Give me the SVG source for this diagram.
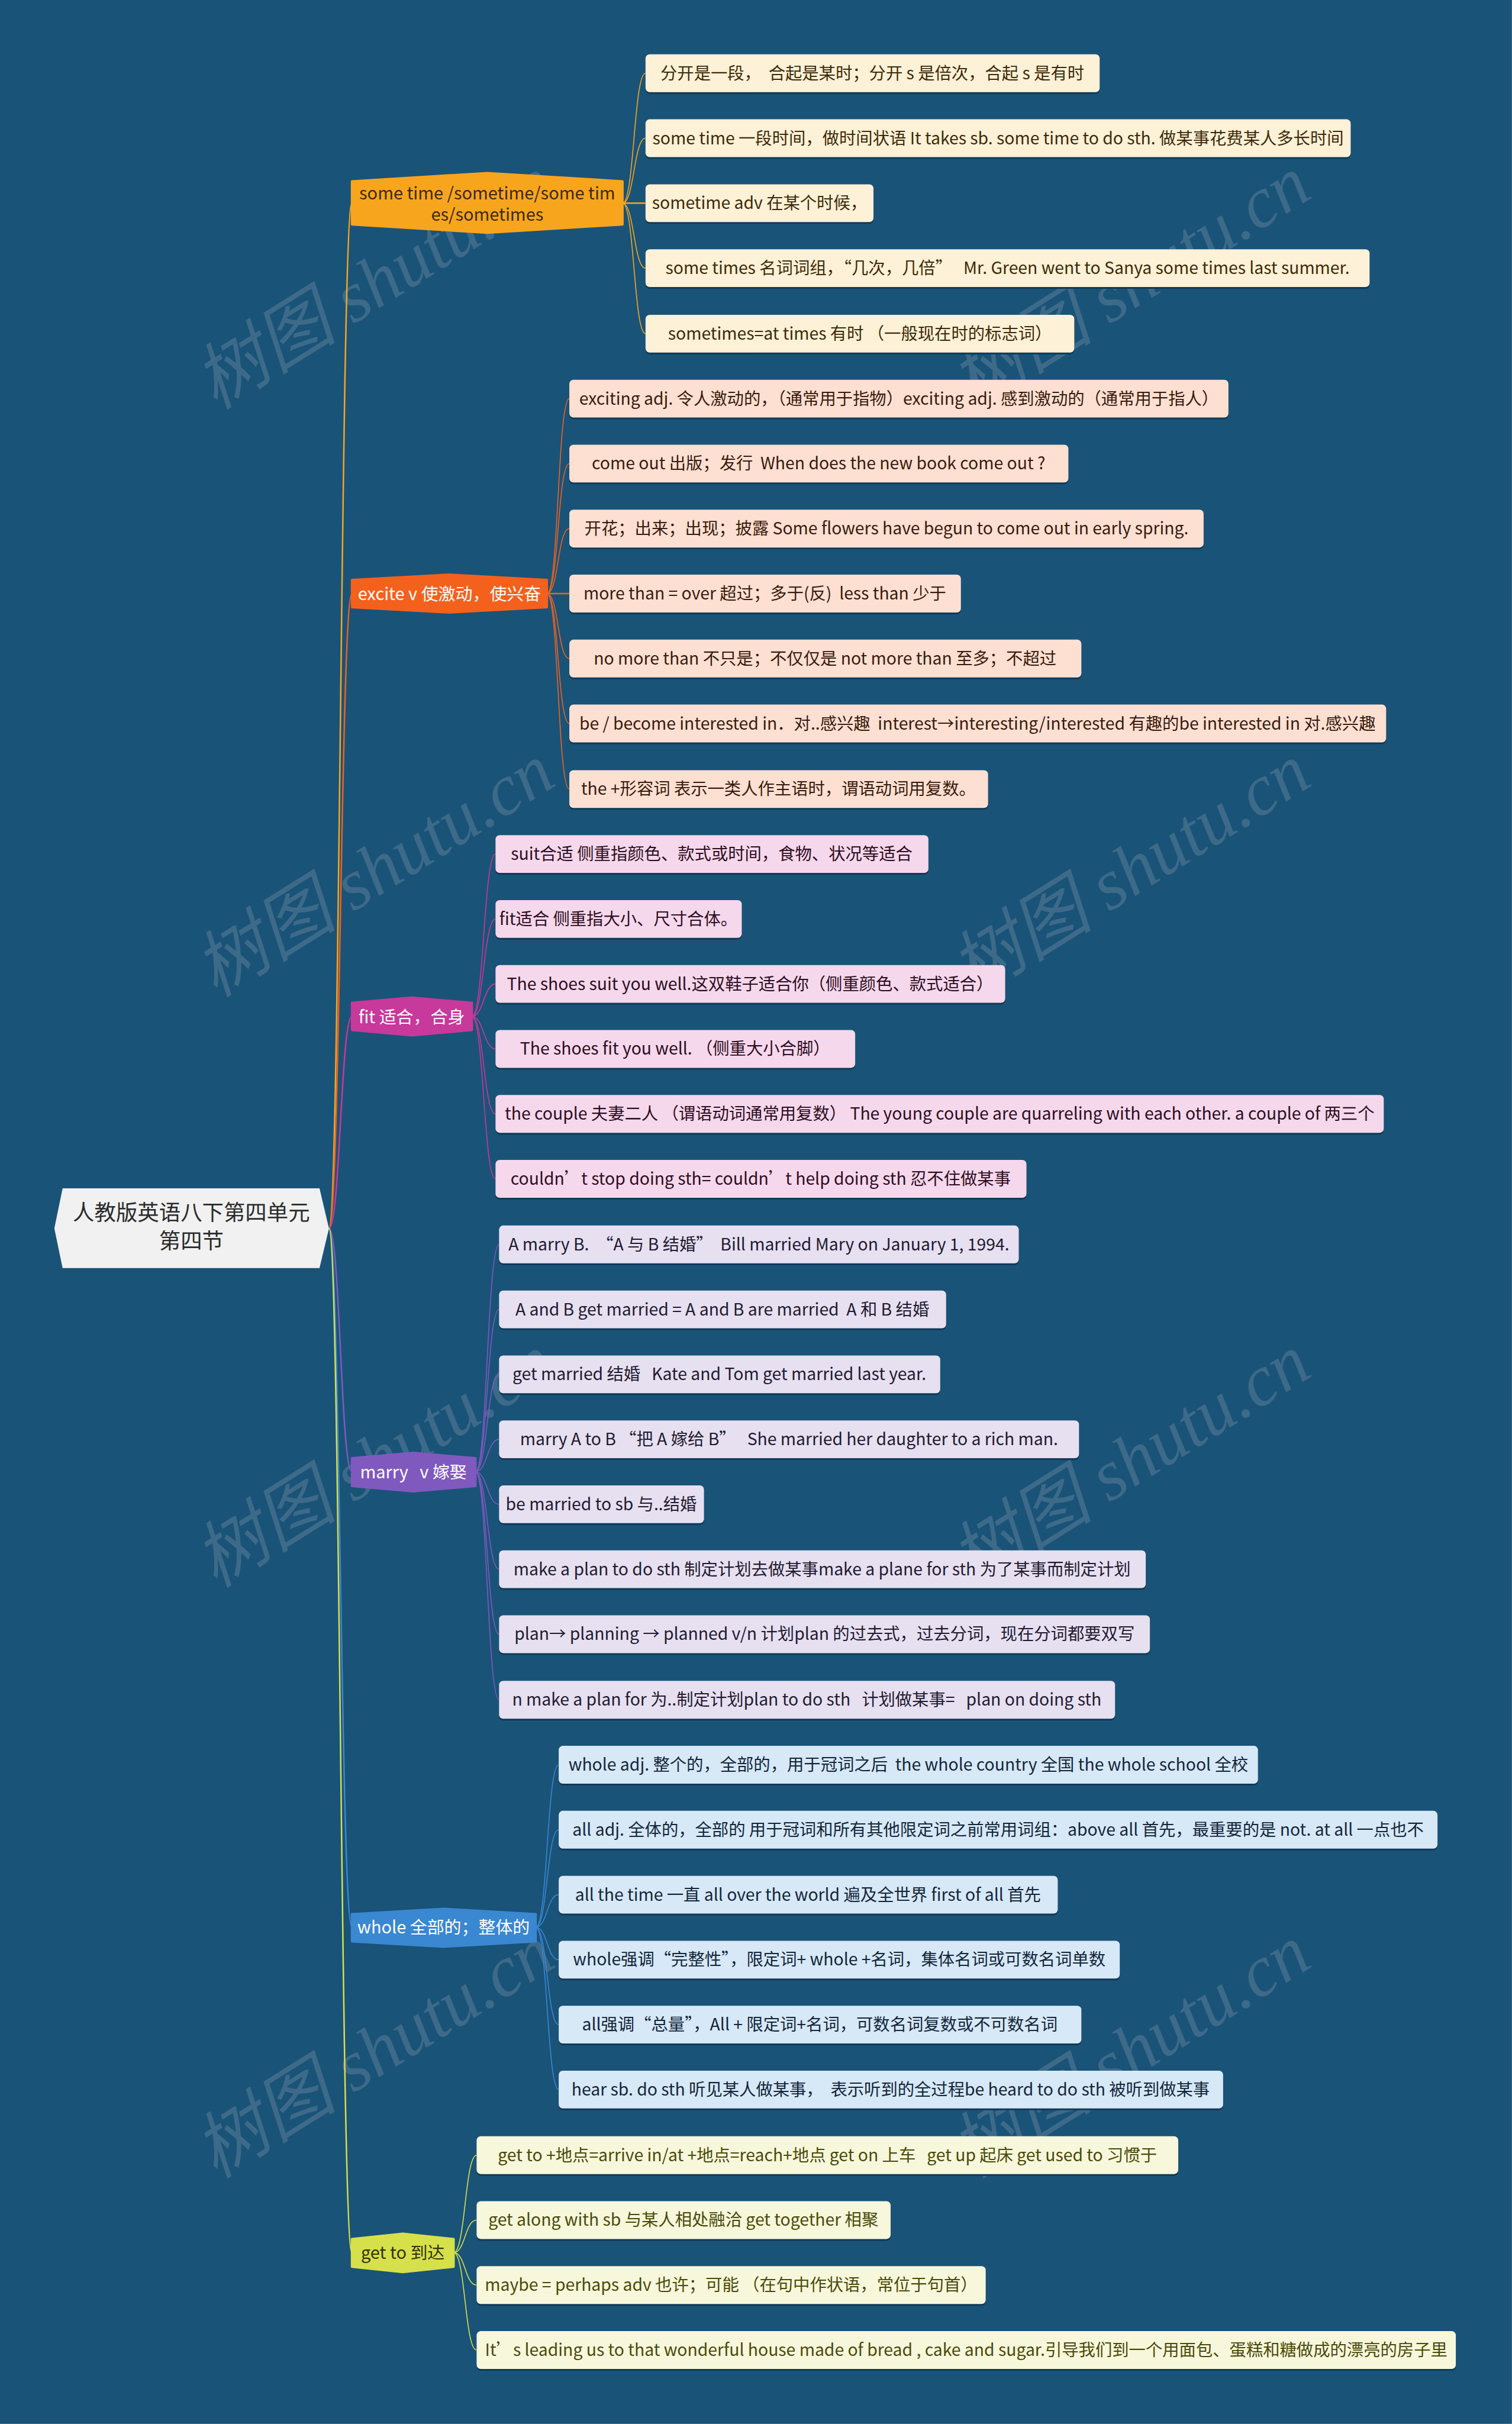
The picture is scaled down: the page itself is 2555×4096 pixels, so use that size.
<svg xmlns="http://www.w3.org/2000/svg" width="2555" height="4096" viewBox="0 0 2555 4096">
<defs>
<style>
text { white-space: pre; font-family: "Noto Sans CJK SC", "Noto Sans", sans-serif; }
.leaf text { font-size: 28.4px; text-anchor: middle; }
.shadow { fill: #0f3a57; }
.br text { font-size: 29px; text-anchor: middle; }
.wm { font-family: "Liberation Serif", "Noto Sans CJK SC", serif; font-style: italic; font-size: 122px; fill: #c9c9c9; opacity: 0.2; }
.c1 rect.box { fill: #fdf1d7; } .c1 text { fill: #3d2a08; }
.c2 rect.box { fill: #fde0d2; } .c2 text { fill: #3a1a0c; }
.c3 rect.box { fill: #f5d8eb; } .c3 text { fill: #2e0c22; }
.c4 rect.box { fill: #e6e0f1; } .c4 text { fill: #221a30; }
.c5 rect.box { fill: #d7e8f7; } .c5 text { fill: #12263a; }
.c6 rect.box { fill: #f7f7dc; } .c6 text { fill: #4a4a08; }
.conn path { fill: none; }
.k1 { stroke: #f5a623; } .k2 { stroke: #f0621f; } .k3 { stroke: #c7399a; } .k4 { stroke: #8059bf; } .k5 { stroke: #3a87d2; } .k6 { stroke: #d6e04b; }
.rb { stroke-width: 2.5; } .lb { stroke-width: 1.6; }
</style>
</defs>
<g transform="scale(0.998)">
<rect x="0" y="0" width="2560" height="4104" fill="#1a5378"/>

<g id="watermarks">
<text class="wm" transform="translate(365,695) rotate(-32)">树图 shutu.cn</text>
<text class="wm" transform="translate(1645,695) rotate(-32)">树图 shutu.cn</text>
<text class="wm" transform="translate(365,1690) rotate(-32)">树图 shutu.cn</text>
<text class="wm" transform="translate(1645,1690) rotate(-32)">树图 shutu.cn</text>
<text class="wm" transform="translate(365,2690) rotate(-32)">树图 shutu.cn</text>
<text class="wm" transform="translate(1645,2690) rotate(-32)">树图 shutu.cn</text>
<text class="wm" transform="translate(365,3690) rotate(-32)">树图 shutu.cn</text>
<text class="wm" transform="translate(1645,3690) rotate(-32)">树图 shutu.cn</text>
</g>

<g id="connectors" class="conn">
<path class="k1 rb" d="M557,2080 C576,2080 577,344 596,344"/>
<path class="k2 rb" d="M557,2080 C576,2080 577,1005 596,1005"/>
<path class="k3 rb" d="M557,2080 C576,2080 577,1721 596,1721"/>
<path class="k4 rb" d="M557,2080 C576,2080 577,2492 596,2492"/>
<path class="k5 rb" d="M557,2080 C576,2080 577,3263 596,3263"/>
<path class="k6 rb" d="M557,2080 C576,2080 577,3814 596,3814"/>

<path class="k1 lb" d="M1054,344 C1074,344 1073,124 1093,124"/>
<path class="k1 lb" d="M1054,344 C1074,344 1073,234 1093,234"/>
<path class="k1 rb" d="M1054,344 L1093,344"/>
<path class="k1 lb" d="M1054,344 C1074,344 1073,454 1093,454"/>
<path class="k1 lb" d="M1054,344 C1074,344 1073,565 1093,565"/>

<path class="k2 lb" d="M926,1005 C946,1005 944,675 964,675"/>
<path class="k2 lb" d="M926,1005 C946,1005 944,785 964,785"/>
<path class="k2 lb" d="M926,1005 C946,1005 944,895 964,895"/>
<path class="k2 rb" d="M926,1005 L964,1005"/>
<path class="k2 lb" d="M926,1005 C946,1005 944,1115 964,1115"/>
<path class="k2 lb" d="M926,1005 C946,1005 944,1225 964,1225"/>
<path class="k2 lb" d="M926,1005 C946,1005 944,1336 964,1336"/>

<path class="k3 lb" d="M799,1721 C819,1721 819,1446 839,1446"/>
<path class="k3 lb" d="M799,1721 C819,1721 819,1556 839,1556"/>
<path class="k3 lb" d="M799,1721 C819,1721 819,1666 839,1666"/>
<path class="k3 lb" d="M799,1721 C819,1721 819,1776 839,1776"/>
<path class="k3 lb" d="M799,1721 C819,1721 819,1886 839,1886"/>
<path class="k3 lb" d="M799,1721 C819,1721 819,1996 839,1996"/>

<path class="k4 lb" d="M805,2492 C825,2492 825,2107 845,2107"/>
<path class="k4 lb" d="M805,2492 C825,2492 825,2217 845,2217"/>
<path class="k4 lb" d="M805,2492 C825,2492 825,2327 845,2327"/>
<path class="k4 lb" d="M805,2492 C825,2492 825,2437 845,2437"/>
<path class="k4 lb" d="M805,2492 C825,2492 825,2547 845,2547"/>
<path class="k4 lb" d="M805,2492 C825,2492 825,2657 845,2657"/>
<path class="k4 lb" d="M805,2492 C825,2492 825,2767 845,2767"/>
<path class="k4 lb" d="M805,2492 C825,2492 825,2878 845,2878"/>

<path class="k5 lb" d="M907,3263 C927,3263 926,2988 946,2988"/>
<path class="k5 lb" d="M907,3263 C927,3263 926,3098 946,3098"/>
<path class="k5 lb" d="M907,3263 C927,3263 926,3208 946,3208"/>
<path class="k5 lb" d="M907,3263 C927,3263 926,3318 946,3318"/>
<path class="k5 lb" d="M907,3263 C927,3263 926,3428 946,3428"/>
<path class="k5 lb" d="M907,3263 C927,3263 926,3538 946,3538"/>

<path class="k6 lb" d="M768,3814 C788,3814 787,3649 807,3649"/>
<path class="k6 lb" d="M768,3814 C788,3814 787,3759 807,3759"/>
<path class="k6 lb" d="M768,3814 C788,3814 787,3869 807,3869"/>
<path class="k6 lb" d="M768,3814 C788,3814 787,3979 807,3979"/>
</g>

<g id="root">
<polygon points="106,2012 541,2012 557,2080 541,2147 106,2147 92,2080" fill="#f1f1f1"/>
<text x="324" y="2066" font-size="36.5" text-anchor="middle" fill="#2b2b2b">人教版英语八下第四单元</text>
<text x="324" y="2114" font-size="36.5" text-anchor="middle" fill="#2b2b2b">第四节</text>
</g>

<g id="branch-1" class="br">
<polygon points="596,307 825,293 1054,307 1054,380 825,394 596,380" fill="#f8a51e" stroke="#f8a51e" stroke-width="4" stroke-linejoin="round"/>
<text x="825" y="338" fill="#3a2a10">some time /sometime/some tim</text>
<text x="825" y="374" fill="#3a2a10">es/sometimes</text>
</g>
<g id="branch-2" class="br">
<polygon points="596,982 761,973 926,982 926,1028 761,1037 596,1028" fill="#f4611d" stroke="#f4611d" stroke-width="4" stroke-linejoin="round"/>
<text x="761" y="1016" fill="#ffffff">excite v 使激动，使兴奋</text>
</g>
<g id="branch-3" class="br">
<polygon points="596,1698 697,1689 799,1698 799,1744 697,1753 596,1744" fill="#c7399a" stroke="#c7399a" stroke-width="4" stroke-linejoin="round"/>
<text x="697" y="1732" fill="#ffffff">fit 适合，合身</text>
</g>
<g id="branch-4" class="br">
<polygon points="596,2469 700,2460 805,2469 805,2516 700,2525 596,2516" fill="#8059bf" stroke="#8059bf" stroke-width="4" stroke-linejoin="round"/>
<text x="700" y="2503" fill="#ffffff">marry   v 嫁娶</text>
</g>
<g id="branch-5" class="br">
<polygon points="596,3241 751,3232 907,3241 907,3287 751,3296 596,3287" fill="#3a87d2" stroke="#3a87d2" stroke-width="4" stroke-linejoin="round"/>
<text x="751" y="3274" fill="#ffffff">whole 全部的；整体的</text>
</g>
<g id="branch-6" class="br">
<polygon points="596,3791 682,3782 768,3791 768,3838 682,3847 596,3838" fill="#d6e04b" stroke="#d6e04b" stroke-width="4" stroke-linejoin="round"/>
<text x="682" y="3825" fill="#333300">get to 到达</text>
</g>

<!-- leaves group 1 -->
<g id="leaf-1-1" class="leaf c1"><rect class="shadow" x="1093" y="95" width="769" height="64" rx="7"/><rect class="box" x="1093" y="92" width="769" height="64" rx="7"/><text x="1477" y="134">分开是一段，  合起是某时；分开 s 是倍次，合起 s 是有时</text></g>
<g id="leaf-1-2" class="leaf c1"><rect class="shadow" x="1093" y="205" width="1194" height="64" rx="7"/><rect class="box" x="1093" y="202" width="1194" height="64" rx="7"/><text x="1690" y="244">some time 一段时间，做时间状语 It takes sb. some time to do sth. 做某事花费某人多长时间</text></g>
<g id="leaf-1-3" class="leaf c1"><rect class="shadow" x="1093" y="315" width="386" height="64" rx="7"/><rect class="box" x="1093" y="312" width="386" height="64" rx="7"/><text x="1286" y="354">sometime adv 在某个时候，</text></g>
<g id="leaf-1-4" class="leaf c1"><rect class="shadow" x="1093" y="425" width="1226" height="64" rx="7"/><rect class="box" x="1093" y="422" width="1226" height="64" rx="7"/><text x="1706" y="464">some times 名词词组，“几次，几倍”   Mr. Green went to Sanya some times last summer.</text></g>
<g id="leaf-1-5" class="leaf c1"><rect class="shadow" x="1093" y="536" width="726" height="64" rx="7"/><rect class="box" x="1093" y="533" width="726" height="64" rx="7"/><text x="1456" y="575">sometimes=at times 有时 （一般现在时的标志词）</text></g>

<!-- leaves group 2 -->
<g id="leaf-2-1" class="leaf c2"><rect class="shadow" x="964" y="646" width="1116" height="64" rx="7"/><rect class="box" x="964" y="643" width="1116" height="64" rx="7"/><text x="1522" y="685">exciting adj. 令人激动的，（通常用于指物）exciting adj. 感到激动的（通常用于指人）</text></g>
<g id="leaf-2-2" class="leaf c2"><rect class="shadow" x="964" y="756" width="845" height="64" rx="7"/><rect class="box" x="964" y="753" width="845" height="64" rx="7"/><text x="1386" y="795">come out 出版；发行  When does the new book come out ?</text></g>
<g id="leaf-2-3" class="leaf c2"><rect class="shadow" x="964" y="866" width="1074" height="64" rx="7"/><rect class="box" x="964" y="863" width="1074" height="64" rx="7"/><text x="1501" y="905">开花；出来；出现；披露 Some flowers have begun to come out in early spring.</text></g>
<g id="leaf-2-4" class="leaf c2"><rect class="shadow" x="964" y="976" width="663" height="64" rx="7"/><rect class="box" x="964" y="973" width="663" height="64" rx="7"/><text x="1295" y="1015">more than = over 超过；多于(反)  less than 少于</text></g>
<g id="leaf-2-5" class="leaf c2"><rect class="shadow" x="964" y="1086" width="867" height="64" rx="7"/><rect class="box" x="964" y="1083" width="867" height="64" rx="7"/><text x="1397" y="1125">no more than 不只是；不仅仅是 not more than 至多；不超过</text></g>
<g id="leaf-2-6" class="leaf c2"><rect class="shadow" x="964" y="1196" width="1383" height="64" rx="7"/><rect class="box" x="964" y="1193" width="1383" height="64" rx="7"/><text x="1655" y="1235">be / become interested in．对..感兴趣  interest→interesting/interested 有趣的be interested in 对.感兴趣</text></g>
<g id="leaf-2-7" class="leaf c2"><rect class="shadow" x="964" y="1307" width="709" height="64" rx="7"/><rect class="box" x="964" y="1304" width="709" height="64" rx="7"/><text x="1318" y="1346">the +形容词 表示一类人作主语时，谓语动词用复数。</text></g>

<!-- leaves group 3 -->
<g id="leaf-3-1" class="leaf c3"><rect class="shadow" x="839" y="1417" width="733" height="64" rx="7"/><rect class="box" x="839" y="1414" width="733" height="64" rx="7"/><text x="1205" y="1456">suit合适 侧重指颜色、款式或时间，食物、状况等适合</text></g>
<g id="leaf-3-2" class="leaf c3"><rect class="shadow" x="839" y="1527" width="417" height="64" rx="7"/><rect class="box" x="839" y="1524" width="417" height="64" rx="7"/><text x="1047" y="1566">fit适合 侧重指大小、尺寸合体。</text></g>
<g id="leaf-3-3" class="leaf c3"><rect class="shadow" x="839" y="1637" width="863" height="64" rx="7"/><rect class="box" x="839" y="1634" width="863" height="64" rx="7"/><text x="1270" y="1676">The shoes suit you well.这双鞋子适合你（侧重颜色、款式适合）</text></g>
<g id="leaf-3-4" class="leaf c3"><rect class="shadow" x="839" y="1747" width="609" height="64" rx="7"/><rect class="box" x="839" y="1744" width="609" height="64" rx="7"/><text x="1143" y="1786">The shoes fit you well. （侧重大小合脚）</text></g>
<g id="leaf-3-5" class="leaf c3"><rect class="shadow" x="839" y="1857" width="1504" height="64" rx="7"/><rect class="box" x="839" y="1854" width="1504" height="64" rx="7"/><text x="1591" y="1896">the couple 夫妻二人 （谓语动词通常用复数） The young couple are quarreling with each other. a couple of 两三个</text></g>
<g id="leaf-3-6" class="leaf c3"><rect class="shadow" x="839" y="1967" width="899" height="64" rx="7"/><rect class="box" x="839" y="1964" width="899" height="64" rx="7"/><text x="1288" y="2006">couldn’t stop doing sth= couldn’t help doing sth 忍不住做某事</text></g>

<!-- leaves group 4 -->
<g id="leaf-4-1" class="leaf c4"><rect class="shadow" x="845" y="2078" width="880" height="64" rx="7"/><rect class="box" x="845" y="2075" width="880" height="64" rx="7"/><text x="1285" y="2117">A marry B.  “A 与 B 结婚”  Bill married Mary on January 1, 1994.</text></g>
<g id="leaf-4-2" class="leaf c4"><rect class="shadow" x="845" y="2188" width="757" height="64" rx="7"/><rect class="box" x="845" y="2185" width="757" height="64" rx="7"/><text x="1223" y="2227">A and B get married = A and B are married  A 和 B 结婚</text></g>
<g id="leaf-4-3" class="leaf c4"><rect class="shadow" x="845" y="2298" width="747" height="64" rx="7"/><rect class="box" x="845" y="2295" width="747" height="64" rx="7"/><text x="1218" y="2337">get married 结婚   Kate and Tom get married last year.</text></g>
<g id="leaf-4-4" class="leaf c4"><rect class="shadow" x="845" y="2408" width="982" height="64" rx="7"/><rect class="box" x="845" y="2405" width="982" height="64" rx="7"/><text x="1336" y="2447">marry A to B “把 A 嫁给 B”   She married her daughter to a rich man.</text></g>
<g id="leaf-4-5" class="leaf c4"><rect class="shadow" x="845" y="2518" width="347" height="64" rx="7"/><rect class="box" x="845" y="2515" width="347" height="64" rx="7"/><text x="1018" y="2557">be married to sb 与..结婚</text></g>
<g id="leaf-4-6" class="leaf c4"><rect class="shadow" x="845" y="2628" width="1095" height="64" rx="7"/><rect class="box" x="845" y="2625" width="1095" height="64" rx="7"/><text x="1392" y="2667">make a plan to do sth 制定计划去做某事make a plane for sth 为了某事而制定计划</text></g>
<g id="leaf-4-7" class="leaf c4"><rect class="shadow" x="845" y="2738" width="1102" height="64" rx="7"/><rect class="box" x="845" y="2735" width="1102" height="64" rx="7"/><text x="1396" y="2777">plan→ planning → planned v/n 计划plan 的过去式，过去分词，现在分词都要双写</text></g>
<g id="leaf-4-8" class="leaf c4"><rect class="shadow" x="845" y="2849" width="1043" height="64" rx="7"/><rect class="box" x="845" y="2846" width="1043" height="64" rx="7"/><text x="1366" y="2888">n make a plan for 为..制定计划plan to do sth   计划做某事=   plan on doing sth</text></g>

<!-- leaves group 5 -->
<g id="leaf-5-1" class="leaf c5"><rect class="shadow" x="946" y="2959" width="1184" height="64" rx="7"/><rect class="box" x="946" y="2956" width="1184" height="64" rx="7"/><text x="1538" y="2998">whole adj. 整个的，全部的，用于冠词之后  the whole country 全国 the whole school 全校</text></g>
<g id="leaf-5-2" class="leaf c5"><rect class="shadow" x="946" y="3069" width="1488" height="64" rx="7"/><rect class="box" x="946" y="3066" width="1488" height="64" rx="7"/><text x="1690" y="3108">all adj. 全体的，全部的 用于冠词和所有其他限定词之前常用词组：above all 首先，最重要的是 not. at all 一点也不</text></g>
<g id="leaf-5-3" class="leaf c5"><rect class="shadow" x="946" y="3179" width="845" height="64" rx="7"/><rect class="box" x="946" y="3176" width="845" height="64" rx="7"/><text x="1368" y="3218">all the time 一直 all over the world 遍及全世界 first of all 首先</text></g>
<g id="leaf-5-4" class="leaf c5"><rect class="shadow" x="946" y="3289" width="950" height="64" rx="7"/><rect class="box" x="946" y="3286" width="950" height="64" rx="7"/><text x="1421" y="3328">whole强调“完整性”，限定词+ whole +名词，集体名词或可数名词单数</text></g>
<g id="leaf-5-5" class="leaf c5"><rect class="shadow" x="946" y="3399" width="885" height="64" rx="7"/><rect class="box" x="946" y="3396" width="885" height="64" rx="7"/><text x="1388" y="3438">all强调“总量”，All + 限定词+名词，可数名词复数或不可数名词</text></g>
<g id="leaf-5-6" class="leaf c5"><rect class="shadow" x="946" y="3509" width="1125" height="64" rx="7"/><rect class="box" x="946" y="3506" width="1125" height="64" rx="7"/><text x="1508" y="3548">hear sb. do sth 听见某人做某事，  表示听到的全过程be heard to do sth 被听到做某事</text></g>

<!-- leaves group 6 -->
<g id="leaf-6-1" class="leaf c6"><rect class="shadow" x="807" y="3620" width="1188" height="64" rx="7"/><rect class="box" x="807" y="3617" width="1188" height="64" rx="7"/><text x="1401" y="3659">get to +地点=arrive in/at +地点=reach+地点 get on 上车   get up 起床 get used to 习惯于</text></g>
<g id="leaf-6-2" class="leaf c6"><rect class="shadow" x="807" y="3730" width="701" height="64" rx="7"/><rect class="box" x="807" y="3727" width="701" height="64" rx="7"/><text x="1157" y="3769">get along with sb 与某人相处融洽 get together 相聚</text></g>
<g id="leaf-6-3" class="leaf c6"><rect class="shadow" x="807" y="3840" width="862" height="64" rx="7"/><rect class="box" x="807" y="3837" width="862" height="64" rx="7"/><text x="1238" y="3879">maybe = perhaps adv 也许；可能 （在句中作状语，常位于句首）</text></g>
<g id="leaf-6-4" class="leaf c6"><rect class="shadow" x="807" y="3950" width="1658" height="64" rx="7"/><rect class="box" x="807" y="3947" width="1658" height="64" rx="7"/><text x="1636" y="3989">It’s leading us to that wonderful house made of bread , cake and sugar.引导我们到一个用面包、蛋糕和糖做成的漂亮的房子里</text></g>
</g>
</svg>
